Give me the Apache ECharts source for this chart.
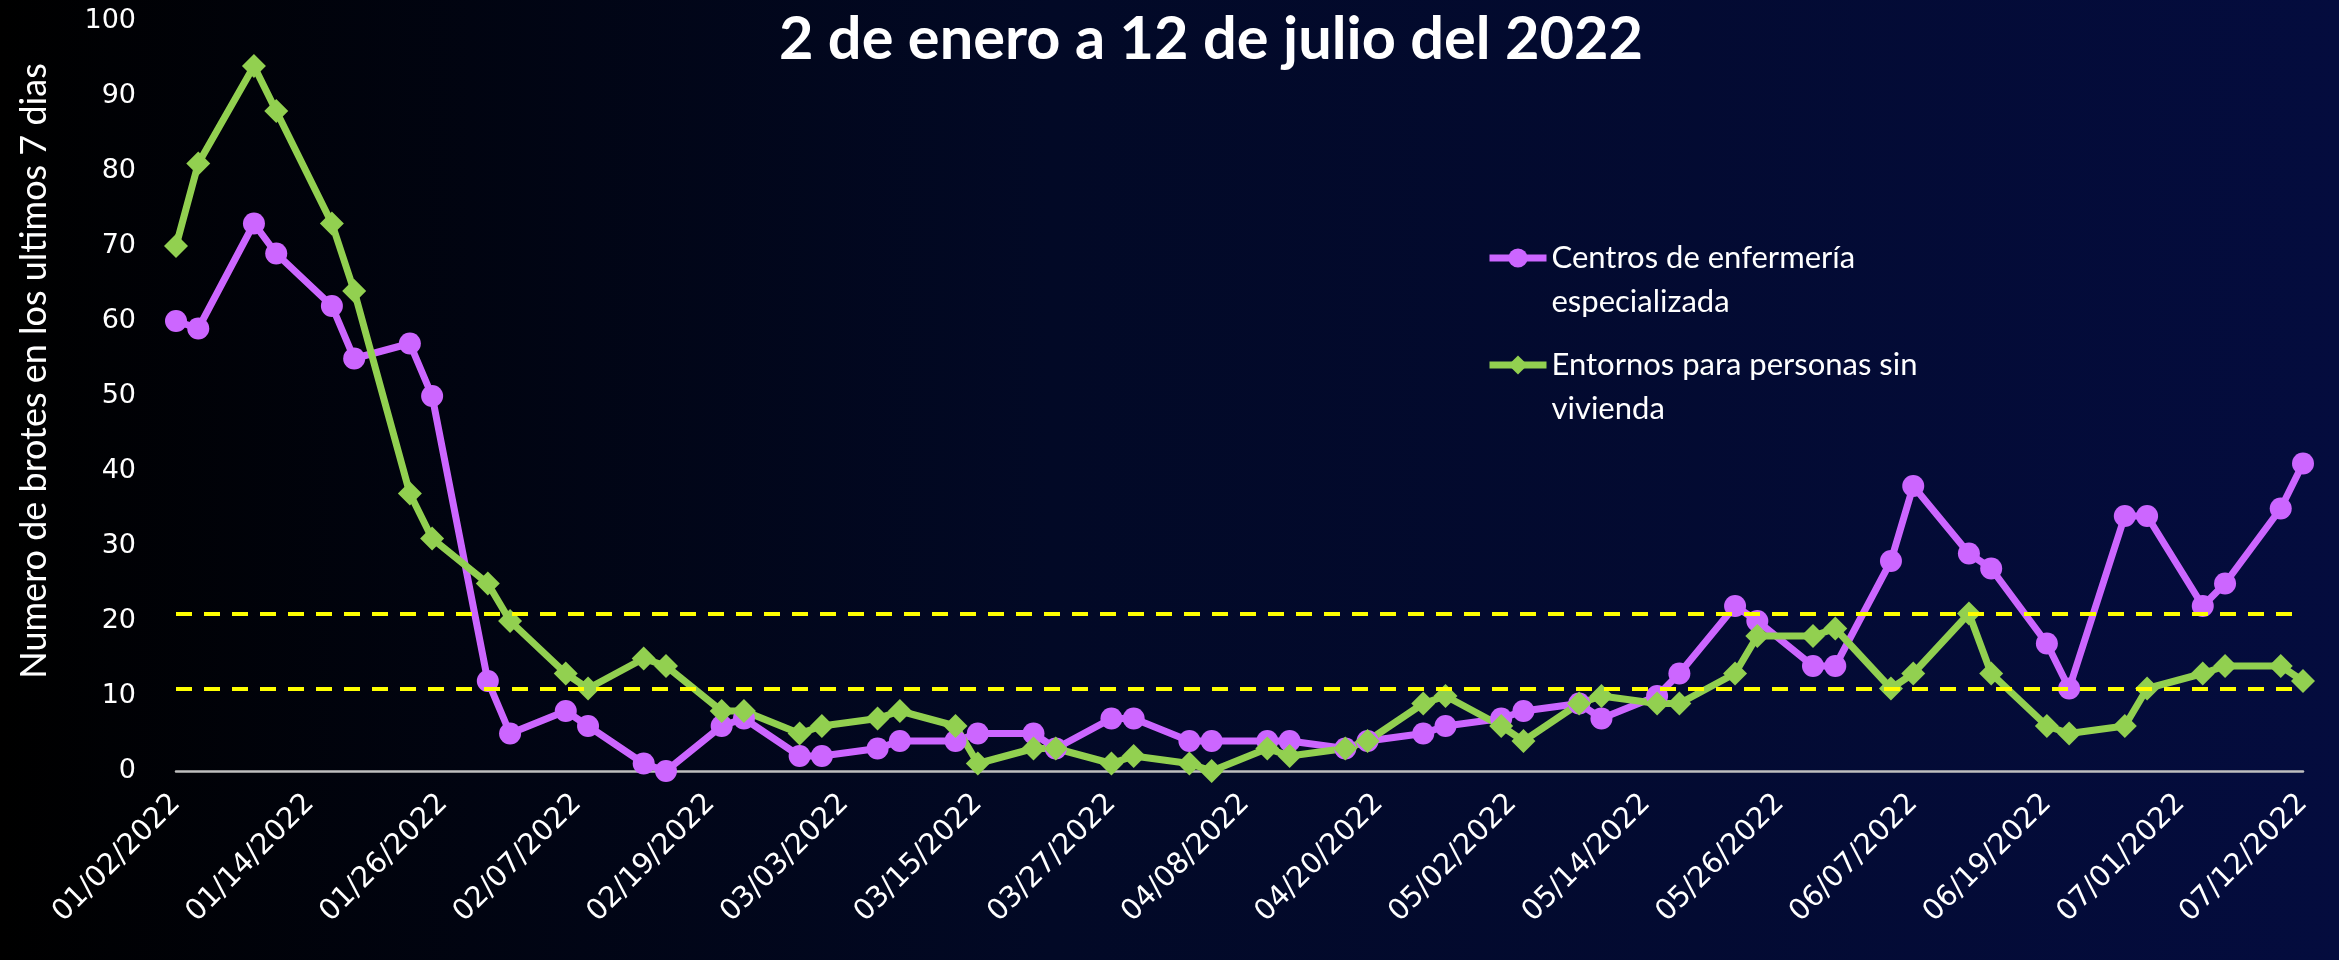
<!DOCTYPE html>
<html>
<head>
<meta charset="utf-8">
<title>Brotes en los ultimos 7 dias</title>
<script src="https://cdn.jsdelivr.net/npm/echarts/dist/echarts.min.js"></script>
<style>
  html, body { margin: 0; padding: 0; background: #000; }
  #grafica { width: 2339px; height: 960px; }
</style>
</head>
<body>
<div id="grafica"></div>
<script>
// fechas de cada punto (domingos y martes)
const fechas = [
  '01/02/2022','01/04/2022','01/09/2022','01/11/2022','01/16/2022','01/18/2022','01/23/2022','01/25/2022',
  '01/30/2022','02/01/2022','02/06/2022','02/08/2022','02/13/2022','02/15/2022','02/20/2022','02/22/2022',
  '02/27/2022','03/01/2022','03/06/2022','03/08/2022','03/13/2022','03/15/2022','03/20/2022','03/22/2022',
  '03/27/2022','03/29/2022','04/03/2022','04/05/2022','04/10/2022','04/12/2022','04/17/2022','04/19/2022',
  '04/24/2022','04/26/2022','05/01/2022','05/03/2022','05/08/2022','05/10/2022','05/15/2022','05/17/2022',
  '05/22/2022','05/24/2022','05/29/2022','05/31/2022','06/05/2022','06/07/2022','06/12/2022','06/14/2022',
  '06/19/2022','06/21/2022','06/26/2022','06/28/2022','07/03/2022','07/05/2022','07/10/2022','07/12/2022'
];

const centrosEnfermeria = [
  60, 59, 73, 69, 62, 55, 57, 50, 12, 5,
  8, 6, 1, 0, 6, 7, 2, 2, 3, 4,
  4, 5, 5, 3, 7, 7, 4, 4, 4, 4,
  3, 4, 5, 6, 7, 8, 9, 7, 10, 13,
  22, 20, 14, 14, 28, 38, 29, 27, 17, 11,
  34, 34, 22, 25, 35, 41
];

const entornosSinVivienda = [
  70, 81, 94, 88, 73, 64, 37, 31, 25, 20,
  13, 11, 15, 14, 8, 8, 5, 6, 7, 8,
  6, 1, 3, 3, 1, 2, 1, 0, 3, 2,
  3, 4, 9, 10, 6, 4, 9, 10, 9, 9,
  13, 18, 18, 19, 11, 13, 21, 13, 6, 5,
  6, 11, 13, 14, 14, 12
];

const umbrales = [21, 11];

const nombreCentros = 'Centros de enfermería especializada';
const nombreEntornos = 'Entornos para personas sin vivienda';
const leyendaTexto = {};
leyendaTexto[nombreCentros] = '\nCentros de enfermería\nespecializada';
leyendaTexto[nombreEntornos] = '\nEntornos para personas sin\nvivienda';

// eje x: un dia por categoria, del 01/02/2022 al 07/12/2022
const diasEje = [];
const pad = n => (n < 10 ? '0' + n : '' + n);
for (let d = new Date(Date.UTC(2022, 0, 2)); d <= new Date(Date.UTC(2022, 6, 12)); d.setUTCDate(d.getUTCDate() + 1)) {
  diasEje.push(pad(d.getUTCMonth() + 1) + '/' + pad(d.getUTCDate()) + '/' + d.getUTCFullYear());
}

const MORADO = '#CC66FF';
const VERDE = '#92D050';

const chart = echarts.init(document.getElementById('grafica'));

const legendaBase = {
  orient: 'vertical',
  left: 1486,
  padding: 0,
  itemWidth: 57,
  itemHeight: 24,
  formatter: name => leyendaTexto[name],
  lineStyle: { width: 7 },
  textStyle: { color: '#ffffff', fontFamily: 'Lato', fontSize: 31, lineHeight: 44 }
};

const option = {
  backgroundColor: {
    type: 'linear', x: 0, y: 0, x2: 1, y2: 0,
    colorStops: [
      { offset: 0, color: '#000000' },
      { offset: 0.45, color: '#020926' },
      { offset: 1, color: '#040c3e' }
    ]
  },
  animation: false,
  title: {
    text: '2 de enero a 12 de julio del 2022',
    left: 1206,
    top: 5,
    textAlign: 'center',
    textStyle: { color: '#ffffff', fontFamily: 'Lato', fontWeight: 'bold', fontSize: 59.5 }
  },
  legend: [
    Object.assign({}, legendaBase, { top: 192, data: [nombreCentros] }),
    Object.assign({}, legendaBase, { top: 299, data: [nombreEntornos] })
  ],
  grid: {
    left: 176,
    right: 36,
    top: 21,
    bottom: 189,
    containLabel: false,
    outerBoundsMode: 'none'
  },
  xAxis: {
    type: 'category',
    data: diasEje,
    boundaryGap: false,
    axisLine: { show: true, lineStyle: { color: '#BFBFBF', width: 2.5 } },
    axisTick: { show: false },
    splitLine: { show: false },
    axisLabel: {
      interval: (index) => index % 12 === 0 || index === diasEje.length - 1,
      rotate: 45,
      margin: 28,
      color: '#ffffff',
      fontFamily: 'DejaVu Sans',
      fontSize: 29
    }
  },
  yAxis: {
    type: 'value',
    min: 0,
    max: 100,
    interval: 10,
    name: 'Numero de brotes en los ultimos 7 dias',
    nameLocation: 'middle',
    nameGap: 124,
    nameTextStyle: { color: '#ffffff', fontFamily: 'Lato', fontSize: 36, padding: [0, 0, 0, 50] },
    axisLine: { show: false },
    axisTick: { show: false },
    splitLine: { show: false },
    axisLabel: {
      color: '#ffffff',
      fontFamily: 'DejaVu Sans',
      fontSize: 27,
      margin: 40
    }
  },
  series: [
    {
      name: nombreCentros,
      type: 'line',
      data: fechas.map((f, i) => [f, centrosEnfermeria[i]]),
      symbol: 'circle',
      symbolSize: 22,
      showAllSymbol: true,
      lineStyle: { color: MORADO, width: 7 },
      itemStyle: { color: MORADO }
    },
    {
      name: nombreEntornos,
      type: 'line',
      data: fechas.map((f, i) => [f, entornosSinVivienda[i]]),
      symbol: 'diamond',
      symbolSize: 24,
      showAllSymbol: true,
      lineStyle: { color: VERDE, width: 7 },
      itemStyle: { color: VERDE }
    },
    {
      name: 'umbrales',
      type: 'line',
      data: [],
      z: 5,
      markLine: {
        silent: true,
        symbol: 'none',
        label: { show: false },
        lineStyle: { color: '#FFFF00', type: [16, 12], width: 4 },
        data: umbrales.map(v => ({ yAxis: v }))
      }
    }
  ]
};

chart.setOption(option);
</script>
</body>
</html>
